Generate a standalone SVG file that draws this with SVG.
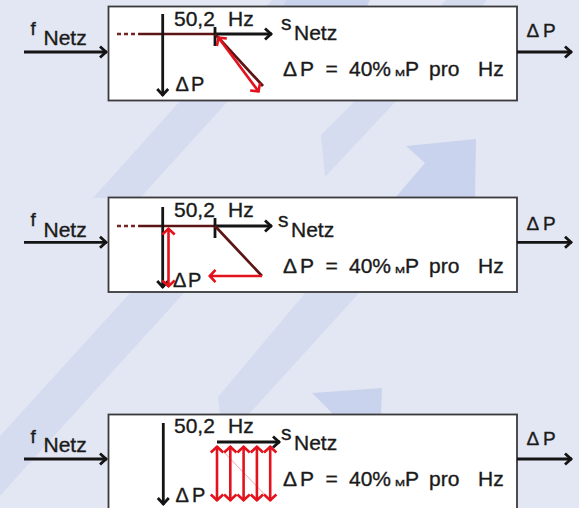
<svg xmlns="http://www.w3.org/2000/svg" width="579" height="508" viewBox="0 0 579 508">
<defs>
<style>
.box{fill:#fff;stroke:#3a3a3a;stroke-width:1.8}
.t{font-family:"Liberation Sans",Arial,Helvetica,sans-serif;fill:#1a1a1a;stroke:#1a1a1a;stroke-width:0.35}
.f21{font-size:21px}
.blk{stroke:#141414;stroke-width:2.8;fill:none}
.red{stroke:#e3121c;stroke-width:2.6;fill:none}
.dr{stroke:#5c1414;stroke-width:2.7;fill:none}
.dot{stroke:#7a2424;stroke-width:2.7;fill:none;stroke-dasharray:4 3}
.band{fill:#d6dcf0}
.head{fill:#cad3ed}
</style>
<marker id="ab" markerUnits="userSpaceOnUse" viewBox="-10 -8 12 16" markerWidth="12" markerHeight="16" refX="0" refY="0" orient="auto">
<path d="M-7,-5.5 L-1,0 L-7,5.5" fill="none" stroke="#141414" stroke-width="2.8"/>
</marker>
<marker id="ar" markerUnits="userSpaceOnUse" viewBox="-10 -8 12 16" markerWidth="12" markerHeight="16" refX="0" refY="0" orient="auto-start-reverse">
<path d="M-6.5,-6.2 L-0.8,0 L-6.5,6.2" fill="none" stroke="#e3121c" stroke-width="2.6"/>
</marker>
</defs>

<g id="background">
<rect x="0" y="0" width="579" height="508" fill="#e3e7f3"/>
<polygon class="band" points="272,0 322,0 229,100 140,198 93,198 181,100"/>
<polygon class="head" points="286,0 370,0 366,8 282,8"/>
<polygon class="band" points="446,0 487,0 397,100 325,177 321,135 356,100"/>
<polygon class="head" points="406,146 476,139 475,198 395,198 425,163"/>
<polygon class="band" points="131,292 185,292 74,414 -11,508 -65,508 20,414"/>
<polygon class="band" points="306,292 360,292 249,414 220,414 218,397"/>
<polygon class="head" points="312,393 382,388 381,415 333,415 331,412"/>
</g>

<g id="node1">
<rect class="box" x="108.5" y="6.5" width="408.5" height="94"/>
<line class="dot" x1="117" y1="34" x2="139" y2="34"/>
<line class="dr" x1="139" y1="34" x2="215" y2="34"/>
<line class="blk" x1="215" y1="34" x2="272" y2="34" marker-end="url(#ab)"/>
<line class="blk" x1="215" y1="27" x2="215" y2="46"/>
<line class="blk" x1="162.7" y1="14" x2="162.7" y2="96" marker-end="url(#ab)"/>
<line class="dr" x1="215" y1="34" x2="263" y2="86" stroke-width="2"/>
<line class="red" x1="218" y1="37" x2="259" y2="92" marker-start="url(#ar)" marker-end="url(#ar)"/>
<text class="t f21" x="174" y="26">50,2</text>
<text class="t f21" x="228" y="26">Hz</text>
<text class="t" font-size="20" y="91"><tspan x="175.5">Δ</tspan><tspan x="191">P</tspan></text>
<text class="t" font-size="21" x="281" y="30">s</text>
<text class="t f21" x="294" y="40">Netz</text>
<text class="t f21" y="76"><tspan x="283">Δ</tspan><tspan x="300">P</tspan><tspan x="325.5">=</tspan><tspan x="349">40%</tspan><tspan x="395" font-size="9" textLength="10" lengthAdjust="spacingAndGlyphs">M</tspan><tspan x="405">P</tspan><tspan x="429">pro</tspan><tspan x="478">Hz</tspan></text>
</g>

<g id="node2">
<rect class="box" x="108.5" y="197.5" width="408.5" height="94.5"/>
<line class="dot" x1="117" y1="226" x2="139" y2="226"/>
<line class="dr" x1="139" y1="226" x2="215" y2="226"/>
<line class="blk" x1="215" y1="226" x2="272" y2="226" marker-end="url(#ab)"/>
<line class="blk" x1="215" y1="218" x2="215" y2="238"/>
<line class="blk" x1="162.7" y1="207" x2="162.7" y2="288" marker-end="url(#ab)"/>
<line class="dr" x1="215" y1="226" x2="262" y2="276" stroke-width="2"/>
<line class="red" x1="262" y1="276" x2="209" y2="276" marker-end="url(#ar)"/>
<line class="red" x1="168.5" y1="228" x2="168.5" y2="287" marker-start="url(#ar)" marker-end="url(#ar)"/>
<text class="t f21" x="174" y="216.5">50,2</text>
<text class="t f21" x="228" y="216.5">Hz</text>
<text class="t" font-size="20" y="287"><tspan x="173">Δ</tspan><tspan x="188">P</tspan></text>
<text class="t" font-size="21" x="278" y="226.5">s</text>
<text class="t f21" x="291" y="236.7">Netz</text>
<text class="t f21" y="273.3"><tspan x="283">Δ</tspan><tspan x="300">P</tspan><tspan x="325.5">=</tspan><tspan x="349">40%</tspan><tspan x="395" font-size="9" textLength="10" lengthAdjust="spacingAndGlyphs">M</tspan><tspan x="405">P</tspan><tspan x="429">pro</tspan><tspan x="478">Hz</tspan></text>
</g>

<g id="node3">
<rect class="box" x="108.5" y="414.5" width="408.5" height="110"/>
<line class="blk" x1="163.3" y1="423" x2="163.3" y2="505" marker-end="url(#ab)"/>
<line x1="218" y1="446" x2="270" y2="500" stroke="#f2a3a8" stroke-width="1"/>
<line class="blk" x1="217" y1="442" x2="280" y2="442" marker-end="url(#ab)"/>
<line class="red" x1="217" y1="446" x2="217" y2="501" marker-start="url(#ar)" marker-end="url(#ar)"/>
<line class="red" x1="230.3" y1="446" x2="230.3" y2="501" marker-start="url(#ar)" marker-end="url(#ar)"/>
<line class="red" x1="243.6" y1="446" x2="243.6" y2="501" marker-start="url(#ar)" marker-end="url(#ar)"/>
<line class="red" x1="256.9" y1="446" x2="256.9" y2="501" marker-start="url(#ar)" marker-end="url(#ar)"/>
<line class="red" x1="270.2" y1="446" x2="270.2" y2="501" marker-start="url(#ar)" marker-end="url(#ar)"/>
<text class="t f21" x="174" y="432.5">50,2</text>
<text class="t f21" x="228" y="432.5">Hz</text>
<text class="t" font-size="20" y="501.7"><tspan x="175.5">Δ</tspan><tspan x="192">P</tspan></text>
<text class="t" font-size="21" x="281" y="440">s</text>
<text class="t f21" x="294" y="450">Netz</text>
<text class="t f21" y="485.7"><tspan x="283">Δ</tspan><tspan x="300">P</tspan><tspan x="325.5">=</tspan><tspan x="349">40%</tspan><tspan x="395" font-size="9" textLength="10" lengthAdjust="spacingAndGlyphs">M</tspan><tspan x="405">P</tspan><tspan x="429">pro</tspan><tspan x="478">Hz</tspan></text>
</g>

<g id="connectors">
<line class="blk" x1="24" y1="52" x2="107" y2="52" marker-end="url(#ab)"/>
<line class="blk" x1="517" y1="52" x2="572" y2="52" marker-end="url(#ab)"/>
<line class="blk" x1="24" y1="242.3" x2="107" y2="242.3" marker-end="url(#ab)"/>
<line class="blk" x1="517" y1="242.3" x2="572" y2="242.3" marker-end="url(#ab)"/>
<line class="blk" x1="24" y1="459" x2="107" y2="459" marker-end="url(#ab)"/>
<line class="blk" x1="517" y1="459" x2="572" y2="459" marker-end="url(#ab)"/>
<text class="t" font-size="19" x="30.5" y="35">f</text>
<text class="t f21" x="43.5" y="45">Netz</text>
<text class="t" font-size="19" x="30.5" y="225.7">f</text>
<text class="t f21" x="43.5" y="236.7">Netz</text>
<text class="t" font-size="19" x="30.5" y="443.3">f</text>
<text class="t f21" x="43.5" y="451.7">Netz</text>
<text class="t" font-size="19" y="37"><tspan x="526.5">Δ</tspan><tspan x="543">P</tspan></text>
<text class="t" font-size="19" y="230"><tspan x="526.5">Δ</tspan><tspan x="543">P</tspan></text>
<text class="t" font-size="19" y="445"><tspan x="526.5">Δ</tspan><tspan x="543">P</tspan></text>
</g>
</svg>
